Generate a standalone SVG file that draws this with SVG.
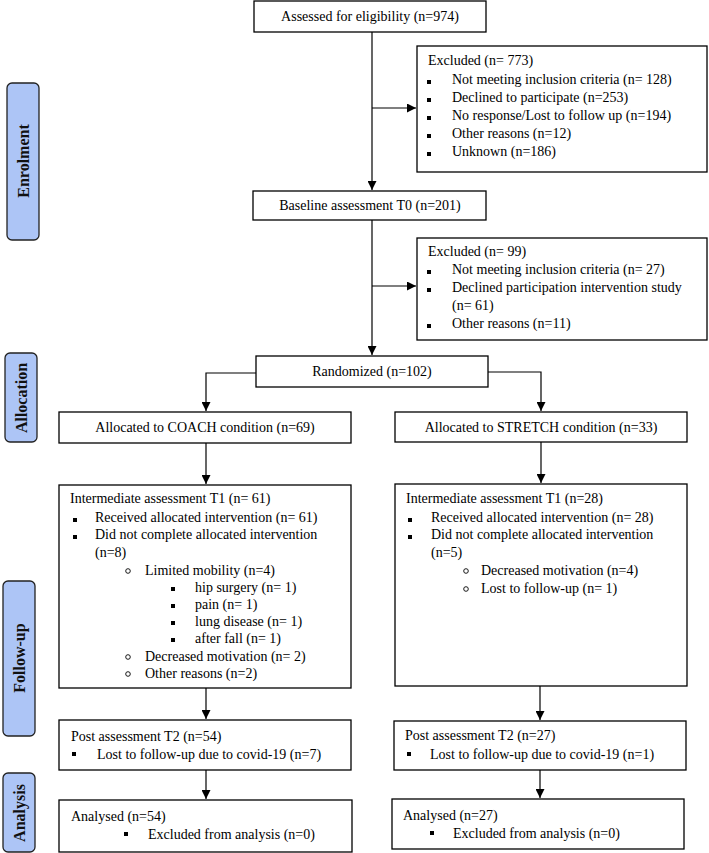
<svg xmlns="http://www.w3.org/2000/svg" width="709" height="853" viewBox="0 0 709 853">
<style>
.box{fill:#fff;stroke:#000;stroke-width:1.3}
.lab{fill:#adc5f6;stroke:#222;stroke-width:1.3}
.t{font-family:"Liberation Serif","Times New Roman",serif;font-size:14px;fill:#000}
.c{text-anchor:middle}
.lt{font-family:"Liberation Serif","Times New Roman",serif;font-size:16px;font-weight:bold;fill:#111;text-anchor:middle;dominant-baseline:central}
.ln{fill:none;stroke:#000;stroke-width:1.2}
.sq{fill:#000}
.ci{fill:none;stroke:#000;stroke-width:0.9}
</style>
<defs>
<marker id="ah" markerUnits="userSpaceOnUse" markerWidth="9" markerHeight="9" refX="9" refY="4.5" orient="auto">
<path d="M0,0 L9,4.5 L0,9 z" fill="#000"/>
</marker>
</defs>
<rect width="709" height="853" fill="#fff"/>

<g id="label-enrolment"><rect class="lab" x="7" y="83" width="32" height="157" rx="5"/><text class="lt" transform="translate(23 161) rotate(-90)">Enrolment</text></g>
<g id="label-allocation"><rect class="lab" x="5" y="353" width="32" height="89" rx="5"/><text class="lt" transform="translate(21 398) rotate(-90)">Allocation</text></g>
<g id="label-followup"><rect class="lab" x="3" y="581" width="32" height="155" rx="5"/><text class="lt" transform="translate(19 658) rotate(-90)">Follow-up</text></g>
<g id="label-analysis"><rect class="lab" x="3" y="773" width="32" height="79" rx="5"/><text class="lt" transform="translate(19 813) rotate(-90)">Analysis</text></g>

<g id="connectors">
<path class="ln" d="M372,32 V190" marker-end="url(#ah)"/>
<path class="ln" d="M372,108 H416" marker-end="url(#ah)"/>
<path class="ln" d="M372,220 V355" marker-end="url(#ah)"/>
<path class="ln" d="M372,286 H416" marker-end="url(#ah)"/>
<path class="ln" d="M256,373 H206 V411" marker-end="url(#ah)"/>
<path class="ln" d="M488,372 H541 V411" marker-end="url(#ah)"/>
<path class="ln" d="M206,443 V484" marker-end="url(#ah)"/>
<path class="ln" d="M541,442 V483" marker-end="url(#ah)"/>
<path class="ln" d="M206,688 V719" marker-end="url(#ah)"/>
<path class="ln" d="M540,686 V720" marker-end="url(#ah)"/>
<path class="ln" d="M206,770 V799" marker-end="url(#ah)"/>
<path class="ln" d="M540,770 V798" marker-end="url(#ah)"/>
</g>

<g id="assessed"><rect class="box" x="254" y="1" width="232" height="31"/><text class="t c" x="370" y="21">Assessed for eligibility (n=974)</text></g>

<g id="excluded1"><rect class="box" x="417" y="46" width="290" height="126"/>
<text class="t" x="428" y="65">Excluded (n= 773)</text>
<rect class="sq" x="427" y="80" width="4" height="4"/><text class="t" x="452" y="84">Not meeting inclusion criteria (n= 128)</text>
<rect class="sq" x="427" y="98" width="4" height="4"/><text class="t" x="452" y="102">Declined to participate (n=253)</text>
<rect class="sq" x="427" y="116" width="4" height="4"/><text class="t" x="452" y="120">No response/Lost to follow up (n=194)</text>
<rect class="sq" x="427" y="134" width="4" height="4"/><text class="t" x="452" y="138">Other reasons (n=12)</text>
<rect class="sq" x="427" y="152" width="4" height="4"/><text class="t" x="452" y="156">Unknown (n=186)</text>
</g>

<g id="baseline"><rect class="box" x="253" y="191" width="233" height="29"/><text class="t c" x="370" y="210">Baseline assessment T0 (n=201)</text></g>

<g id="excluded2"><rect class="box" x="417" y="238" width="290" height="102"/>
<text class="t" x="428" y="256">Excluded (n= 99)</text>
<rect class="sq" x="427" y="270" width="4" height="4"/><text class="t" x="452" y="274">Not meeting inclusion criteria (n= 27)</text>
<rect class="sq" x="427" y="288" width="4" height="4"/><text class="t" x="452" y="292">Declined participation intervention study</text>
<text class="t" x="452" y="310">(n= 61)</text>
<rect class="sq" x="427" y="324" width="4" height="4"/><text class="t" x="452" y="328">Other reasons (n=11)</text>
</g>

<g id="randomized"><rect class="box" x="256" y="356" width="232" height="31"/><text class="t c" x="372" y="376">Randomized (n=102)</text></g>

<g id="coach"><rect class="box" x="59" y="412" width="292" height="31"/><text class="t c" x="205" y="432">Allocated to COACH condition (n=69)</text></g>
<g id="stretch"><rect class="box" x="395" y="412" width="292" height="30"/><text class="t c" x="541" y="432">Allocated to STRETCH condition (n=33)</text></g>

<g id="coach-t1"><rect class="box" x="59" y="485" width="292" height="203"/>
<text class="t" x="70" y="503">Intermediate assessment T1 (n= 61)</text>
<rect class="sq" x="73" y="518" width="4" height="4"/><text class="t" x="95" y="522">Received allocated intervention (n= 61)</text>
<rect class="sq" x="73" y="535" width="4" height="4"/><text class="t" x="95" y="539">Did not complete allocated intervention</text>
<text class="t" x="95" y="557">(n=8)</text>
<circle class="ci" cx="128" cy="571" r="2.3"/><text class="t" x="145" y="575">Limited mobility (n=4)</text>
<rect class="sq" x="171" y="587" width="4" height="4"/><text class="t" x="195" y="592">hip surgery (n= 1)</text>
<rect class="sq" x="171" y="604" width="4" height="4"/><text class="t" x="195" y="609">pain (n= 1)</text>
<rect class="sq" x="171" y="621" width="4" height="4"/><text class="t" x="195" y="626">lung disease (n= 1)</text>
<rect class="sq" x="171" y="638" width="4" height="4"/><text class="t" x="195" y="643">after fall (n= 1)</text>
<circle class="ci" cx="128" cy="657" r="2.3"/><text class="t" x="145" y="661">Decreased motivation (n= 2)</text>
<circle class="ci" cx="128" cy="674" r="2.3"/><text class="t" x="145" y="678">Other reasons (n=2)</text>
</g>

<g id="stretch-t1"><rect class="box" x="395" y="484" width="292" height="202"/>
<text class="t" x="406" y="503">Intermediate assessment T1 (n=28)</text>
<rect class="sq" x="408" y="518" width="4" height="4"/><text class="t" x="431" y="522">Received allocated intervention (n= 28)</text>
<rect class="sq" x="408" y="535" width="4" height="4"/><text class="t" x="431" y="539">Did not complete allocated intervention</text>
<text class="t" x="431" y="557">(n=5)</text>
<circle class="ci" cx="466" cy="571" r="2.3"/><text class="t" x="481" y="575">Decreased motivation (n=4)</text>
<circle class="ci" cx="466" cy="589" r="2.3"/><text class="t" x="481" y="593">Lost to follow-up (n= 1)</text>
</g>

<g id="coach-t2"><rect class="box" x="59" y="720" width="292" height="50"/>
<text class="t" x="71" y="741">Post assessment T2 (n=54)</text>
<rect class="sq" x="72" y="752" width="4" height="4"/><text class="t" x="97" y="759">Lost to follow-up due to covid-19 (n=7)</text>
</g>
<g id="stretch-t2"><rect class="box" x="394" y="721" width="292" height="49"/>
<text class="t" x="405" y="740">Post assessment T2 (n=27)</text>
<rect class="sq" x="407" y="752" width="4" height="4"/><text class="t" x="430" y="759">Lost to follow-up due to covid-19 (n=1)</text>
</g>

<g id="coach-analysed"><rect class="box" x="59" y="800" width="293" height="52"/>
<text class="t" x="71" y="821">Analysed (n=54)</text>
<rect class="sq" x="124" y="832" width="4" height="4"/><text class="t" x="148" y="839">Excluded from analysis (n=0)</text>
</g>
<g id="stretch-analysed"><rect class="box" x="392" y="799" width="292" height="50"/>
<text class="t" x="403" y="820">Analysed (n=27)</text>
<rect class="sq" x="430" y="831" width="4" height="4"/><text class="t" x="453" y="838">Excluded from analysis (n=0)</text>
</g>
</svg>
